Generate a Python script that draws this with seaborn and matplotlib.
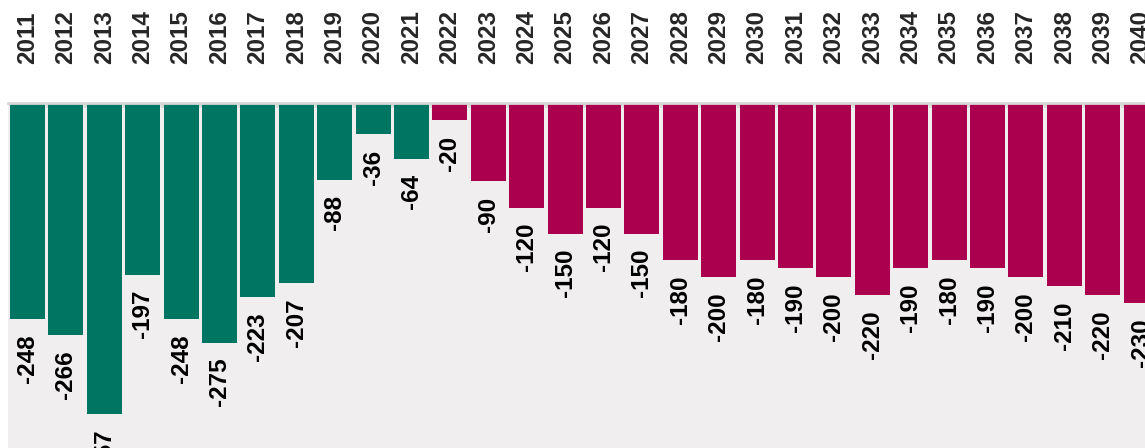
import matplotlib
matplotlib.use("Agg")
import matplotlib.pyplot as plt
from matplotlib import font_manager
import seaborn as sns
import pandas as pd

# Data
years = [str(y) for y in range(2011, 2041)]
actual = [-248, -266, -357, -197, -248, -275, -223, -207, -88, -36, -64]
forecast = [-20, -90, -120, -150, -120, -150, -180, -200, -180, -190,
            -200, -220, -190, -180, -190, -200, -210, -220, -230]
groups = ["actual"] * len(actual) + ["forecast"] * len(forecast)

green = "#007662"
crimson = "#AA004E"

df = pd.DataFrame({"year": years, "value": actual + forecast, "group": groups})

sns.set_theme(style="white")
plt.rcParams["font.family"] = ["Liberation Sans", "DejaVu Sans"]

fp = font_manager.FontProperties(family=["Liberation Sans", "DejaVu Sans"],
                                 weight="bold", size=17.5)

fig = plt.figure(figsize=(11.45, 4.48), dpi=100)
# axes deliberately run past the right and bottom edges, as in the reference crop
ax = fig.add_axes([8.3 / 1145, 1 - (103 + 420 * 0.871) / 448,
                   30 * 38.4 / 1145, 420 * 0.871 / 448])
ax.set_facecolor("#F0EEEF")

sns.barplot(data=df, x="year", y="value", hue="group",
            palette={"actual": green, "forecast": crimson},
            dodge=False, width=0.91, saturation=1, linewidth=0,
            legend=False, ax=ax)

ax.set_xlim(-0.5, len(years) - 0.5)
ax.set_ylim(-420, 0)

# value labels under each bar
for i, v in enumerate(df["value"]):
    ax.annotate(str(v), (i, v), xytext=(0, -11), textcoords="offset points",
                rotation=90, ha="center", va="top",
                fontproperties=fp, color="black")

# year labels on top
ax.xaxis.tick_top()
ax.tick_params(axis="x", which="major", length=0, pad=28)
# small grey marks in the gaps between bars
ax.set_xticks([i + 0.5 for i in range(len(years) - 1)], minor=True)
ax.tick_params(axis="x", which="minor", direction="in", length=3, width=2.5,
               color="#D6D6D6")
for lbl in ax.get_xticklabels():
    lbl.set_rotation(90)
    lbl.set_fontproperties(fp)
    lbl.set_va("bottom")
ax.set_yticks([])
ax.set_xlabel("")
ax.set_ylabel("")

for side in ["left", "right", "bottom"]:
    ax.spines[side].set_visible(False)
ax.spines["top"].set_color("#D6D6D6")
ax.spines["top"].set_linewidth(2)

fig.savefig("out.png", dpi=100)
